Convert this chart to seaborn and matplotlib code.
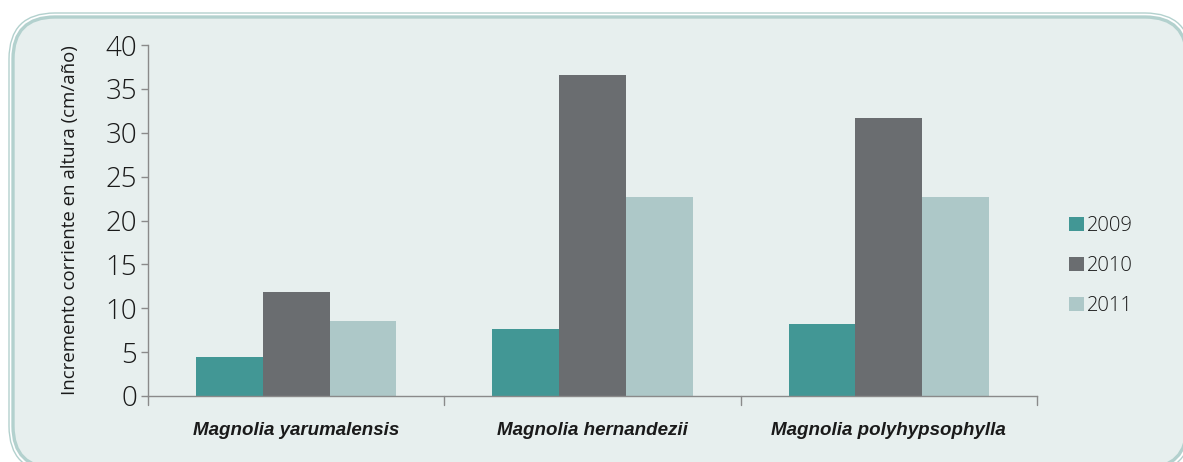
import pandas as pd
import matplotlib.pyplot as plt
import seaborn as sns
from matplotlib.patches import FancyBboxPatch, Patch

species = ["Magnolia yarumalensis", "Magnolia hernandezii", "Magnolia polyhypsophylla"]
years = ["2009", "2010", "2011"]
vals_2009 = [4.4, 7.6, 8.2]
vals_2010 = [11.8, 36.6, 31.7]
vals_2011 = [8.6, 22.7, 22.7]
colors = ["#429795", "#6A6D70", "#ADC8C8"]

rows = []
for yr, vals in zip(years, [vals_2009, vals_2010, vals_2011]):
    for sp, v in zip(species, vals):
        rows.append({"Especie": sp, "Año": yr, "Incremento": v})
df = pd.DataFrame(rows)

sns.set_style("white")
plt.rcParams["font.family"] = ["Open Sans", "DejaVu Sans"]
plt.rcParams["font.weight"] = "light"

W, H = 1183, 462
bg = "#E7EFEE"
edge = "#B3D1CE"
txt = "#1a1a1a"
fig = plt.figure(figsize=(W / 100, H / 100), dpi=100)
fig.patch.set_facecolor("white")

# background panel in pixel coordinates
bg_ax = fig.add_axes([0, 0, 1, 1], zorder=-1)
bg_ax.set_xlim(0, W)
bg_ax.set_ylim(H, 0)
bg_ax.axis("off")
bg_ax.add_patch(FancyBboxPatch((9, 13), 1191 - 9, 472 - 13,
                               boxstyle="round,pad=0,rounding_size=46",
                               facecolor="white", edgecolor=edge, linewidth=1.0))
bg_ax.add_patch(FancyBboxPatch((13, 17), 1187 - 13, 468 - 17,
                               boxstyle="round,pad=0,rounding_size=42",
                               facecolor=bg, edgecolor=edge, linewidth=2.4))

ax = fig.add_axes([148 / W, 1 - 396 / H, (1037 - 148) / W, (396 - 45) / H])
ax.set_facecolor("none")

sns.barplot(data=df, x="Especie", y="Incremento", hue="Año", palette=colors,
            width=0.675, errorbar=None, saturation=1, linewidth=0,
            ax=ax, legend=False)

ax.set_ylim(0, 40)
ax.set_xlim(-0.5, 2.5)
ax.set_yticks(range(0, 41, 5))
ax.tick_params(axis="y", labelsize=20, length=5, width=1, color="#8A8A8A",
               left=True, pad=3, labelcolor=txt)
ax.set_xticks([0, 1, 2])
ax.set_xticklabels(species, fontsize=13.5, color=txt,
                   fontdict={"family": ["Liberation Sans"], "weight": "bold",
                             "style": "italic"})
ax.tick_params(axis="x", length=0, pad=19)
for b in [-0.5, 0.5, 1.5, 2.5]:
    ax.plot([b, b], [0, -0.025], transform=ax.get_xaxis_transform(),
            color="#8A8A8A", lw=1, clip_on=False)

for s in ["top", "right"]:
    ax.spines[s].set_visible(False)
for s in ["left", "bottom"]:
    ax.spines[s].set_color("#8A8A8A")
    ax.spines[s].set_linewidth(1)

ax.set_xlabel("")
ax.set_ylabel("Incremento corriente en altura (cm/año)", fontsize=13.4,
              color=txt, labelpad=19)

handles = [Patch(facecolor=c, edgecolor="none") for c in colors]
fig.legend(handles, years, loc="center left", bbox_to_anchor=(1069 / W, 1 - 266 / H),
           frameon=False, fontsize=14.5, handlelength=0.72, handleheight=0.72,
           handletextpad=0.15, labelspacing=1.0, borderpad=0, borderaxespad=0,
           labelcolor=txt)

fig.savefig("out.png", dpi=100, facecolor="white")
